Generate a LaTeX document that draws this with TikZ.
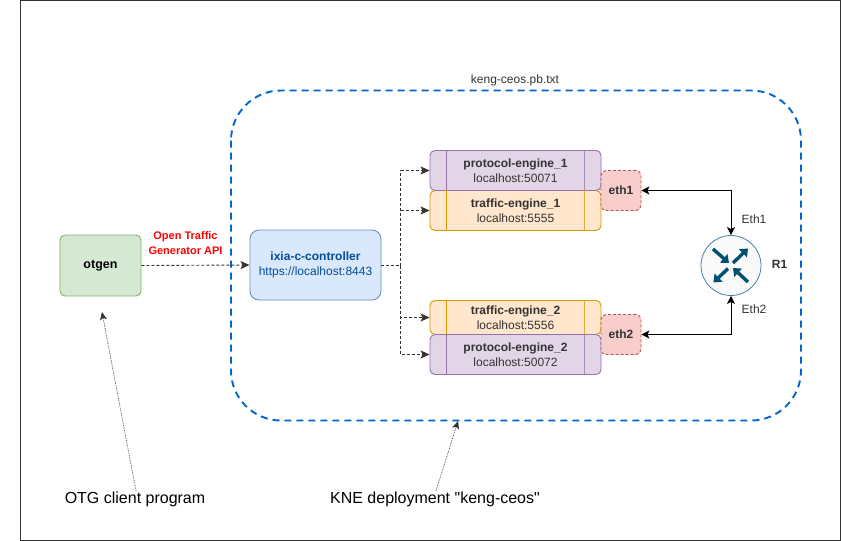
\documentclass[tikz,border=0pt]{standalone}
\usepackage{fontspec}
\setmainfont{Liberation Sans}
\newfontfamily\rawsans{Liberation Sans}
\usetikzlibrary{arrows.meta,calc,positioning}
\definecolor{framec}{HTML}{333333}
\definecolor{txt}{HTML}{333333}
\definecolor{kneblue}{HTML}{0066CC}
\definecolor{routerc}{HTML}{005073}
\tikzset{
  box/.style={draw,rounded corners=5pt,align=center,inner sep=0pt,line width=0.9pt,font=\fontsize{12}{15}\selectfont,text=txt},
  enginebox/.style={box,minimum width=171pt},
  protobox/.style={enginebox,fill=protofill,draw=protoline,minimum height=40pt},
  trafbox/.style={enginebox,fill=trafill,draw=traline},
  ethbox/.style={box,fill=ethfill,draw=ethline,densely dashed,minimum width=40pt,minimum height=40pt,font=\fontsize{12}{14}\bfseries\selectfont},
  flow/.style={draw=framec,densely dashed,line width=0.9pt},
  flowarrow/.style={flow,-{Stealth[length=9pt,width=8pt,inset=2pt]}},
  link/.style={draw=black,line width=0.9pt,{Stealth[length=8pt,width=8pt,inset=2pt]}-{Stealth[length=8pt,width=8pt,inset=2pt]}},
  callout/.style={draw=framec,densely dotted,line width=0.7pt,-{Stealth[length=8pt,width=7pt,inset=2pt]}},
  label/.style={inner sep=0pt,font=\fontsize{12}{14}\selectfont,text=txt},
  biglabel/.style={inner sep=0pt,font=\rawsans\fontsize{16}{18}\selectfont,text=black},
  routerarrow/.style={draw=routerc,line width=3.4pt,-{Triangle[length=7pt,width=11pt]}},
}
\definecolor{protofill}{HTML}{E1D5E7}\definecolor{protoline}{HTML}{9673A6}
\definecolor{trafill}{HTML}{FFE6CC}\definecolor{traline}{HTML}{D79B00}
\definecolor{ethfill}{HTML}{F8CECC}\definecolor{ethline}{HTML}{B85450}
\definecolor{greenfill}{HTML}{D5E8D4}\definecolor{greenline}{HTML}{82B366}
\definecolor{bluefill}{HTML}{DAE8FC}\definecolor{blueline}{HTML}{6C8EBF}
\begin{document}
\begin{tikzpicture}[x=1pt,y=-1pt]
\useasboundingbox (0,0) rectangle (841,541);
\fill[white] (0,0) rectangle (841,541);
\draw[framec,line width=1pt] (20.5,0.5) rectangle (840.3,540.3);
% KNE boundary
\draw[kneblue,line width=1.9pt,dash pattern=on 7pt off 5pt,rounded corners=50pt] (231,90.5) rectangle (801,420.5);
\node[label] (file) at (515,80.5) {keng-ceos.pb.txt};
% nodes
\node[box,fill=greenfill,draw=greenline,minimum width=81pt,minimum height=61pt,text=black,font=\fontsize{12.5}{14}\bfseries\selectfont] (otgen) at (100.5,265.5) {otgen};
\node[box,fill=bluefill,draw=blueline,minimum width=131pt,minimum height=70pt,rounded corners=9pt,text={rgb,255:red,0;green,76;blue,153}] (ctrl) at (315.5,265) {\textbf{ixia-c-controller}\\https://localhost:8443};
\node[trafbox,minimum height=40pt] (te1) at (515.5,210.5) {\textbf{traffic-engine\_1}\\localhost:5555};
\node[protobox] (pe1) at (515.5,170.5) {\textbf{protocol-engine\_1}\\localhost:50071};
\node[trafbox,minimum height=34pt] (te2) at (515.5,317.5) {\textbf{traffic-engine\_2}\\localhost:5556};
\node[protobox] (pe2) at (515.5,354.5) {\textbf{protocol-engine\_2}\\localhost:50072};
\foreach \n/\c in {pe1/protoline,te1/traline,te2/traline,pe2/protoline}{
  \draw[\c,line width=0.9pt] ($(\n.north west)+(17,0)$) -- ($(\n.south west)+(17,0)$);
  \draw[\c,line width=0.9pt,opacity=.75] ($(\n.north east)+(-17,0)$) -- ($(\n.south east)+(-17,0)$);
}
\node[ethbox] (eth1) at (621,190.5) {eth1};
\node[ethbox] (eth2) at (621,334.5) {eth2};
% router
\node[circle,draw={rgb,255:red,70;green,130;blue,160},fill={rgb,255:red,249;green,249;blue,249},line width=0.8pt,minimum size=60pt,inner sep=0pt] (r1) at (731,265.5) {};
\coordinate (a1s) at (713,249);\coordinate (a1e) at (729,263);
\coordinate (a2s) at (733,263);\coordinate (a2e) at (748,248.5);
\coordinate (a3s) at (728,268.5);\coordinate (a3e) at (713.5,282.5);
\coordinate (a4s) at (748,282);\coordinate (a4e) at (733,268);
\foreach \i in {1,2,3,4}{\draw[routerarrow] (a\i s) -- (a\i e);}
\node[label,font=\fontsize{12}{14}\bfseries\selectfont] (r1l) at (779.5,264.5) {R1};
% flows
\coordinate (trunk) at (400.5,265.5);
\draw[flowarrow] (otgen.east) -- (ctrl.west);
\draw[flow] (ctrl.east |- trunk) -- (trunk);
\draw[flowarrow] (trunk) |- (pe1.west);
\draw[flowarrow] (trunk) |- (te1.west);
\draw[flowarrow] (trunk) |- (te2.west);
\draw[flowarrow] (trunk) |- (pe2.west);
\node[inner sep=0pt,align=center,text=red,font=\fontsize{11}{15}\bfseries\selectfont] (api) at (185.5,243.5) {Open Traffic\\Generator API};
% links
\draw[link] (eth1.east) -| (r1.north);
\draw[link] (eth2.east) -| (r1.south);
\node[label] (e1l) at (754,219.5) {Eth1};
\node[label] (e2l) at (754,309.5) {Eth2};
% callouts
\node[biglabel] (otgc) at (135,499.5) {OTG client program};
\node[biglabel] (knec) at (435,499.5) {KNE deployment "keng-ceos"};
\coordinate (otgtip) at (102,312);
\coordinate (knetip) at (458,421);
\draw[callout] (otgc.north) ++(1,-1) -- (otgtip);
\draw[callout] (knec.north) ++(1,-1) -- (knetip);
\end{tikzpicture}
\end{document}
